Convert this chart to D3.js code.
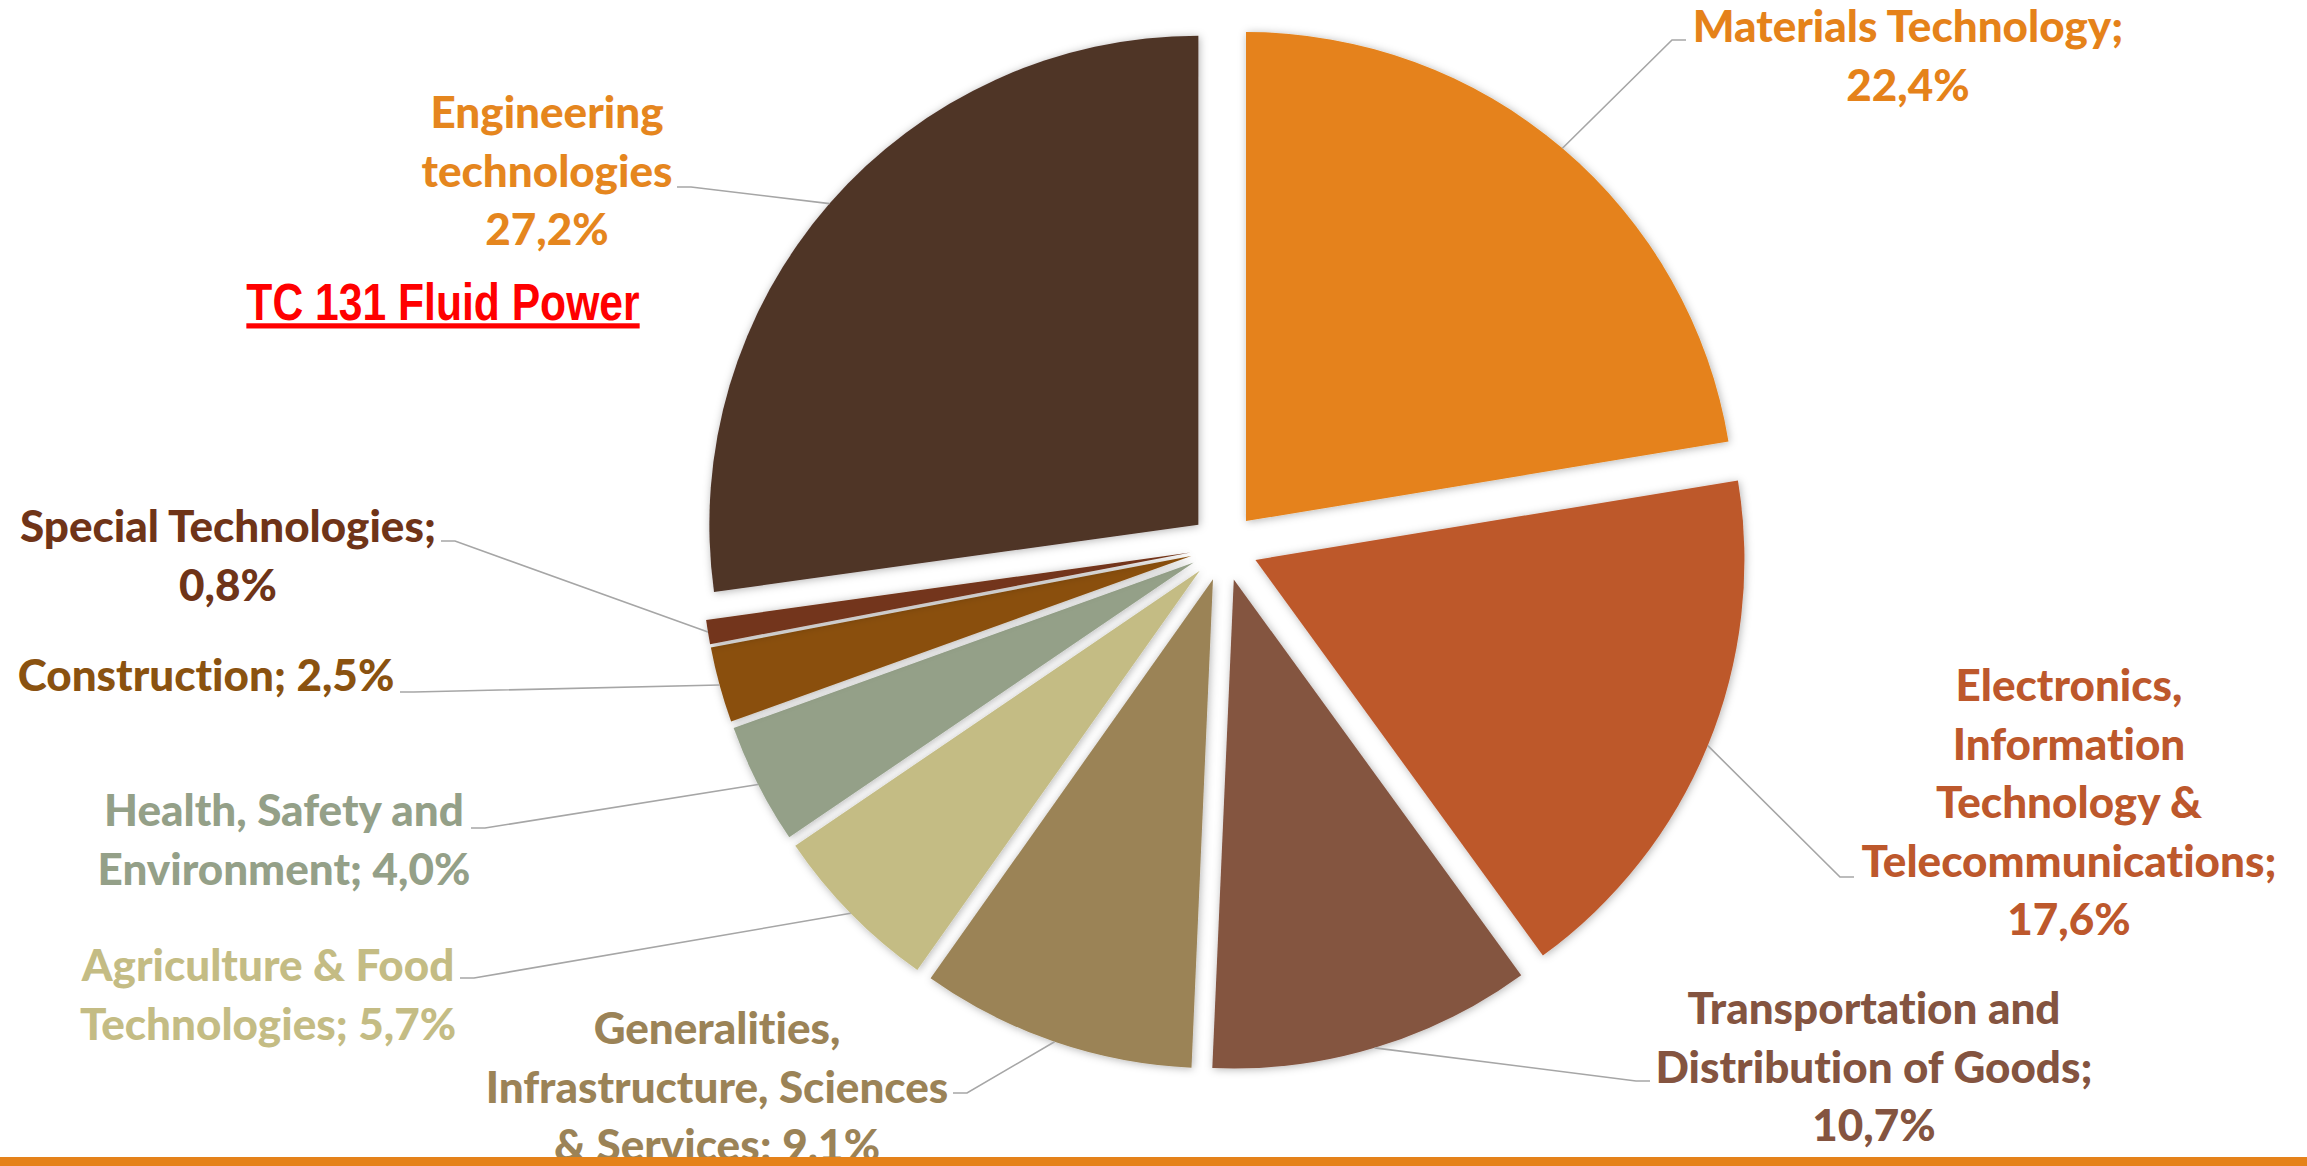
<!DOCTYPE html>
<html>
<head>
<meta charset="utf-8">
<script src="https://cdn.jsdelivr.net/npm/d3@7"></script>
<style>
	body { margin: 0; background: #fff; overflow: hidden; }
	.label { font-family: Lato, "Open Sans", sans-serif; font-weight: 900; font-size: 44px; text-anchor: middle;
		font-variant-ligatures: none; font-feature-settings: "liga" 0, "dlig" 0; }
	.note { font-family: "Liberation Sans", Arial, sans-serif; font-weight: 700; font-size: 52px; }
</style>
</head>
<body>
<div id="chart"></div>
<script>
// shares of standards per sector (%), clockwise from 12 o'clock
const categories = ["Materials Technology", "Electronics, Information Technology & Telecommunications",
	"Transportation and Distribution of Goods", "Generalities, Infrastructure, Sciences & Services",
	"Agriculture & Food Technologies", "Health, Safety and Environment", "Construction",
	"Special Technologies", "Engineering technologies"];
const shares = [22.4, 17.6, 10.7, 9.1, 5.7, 4.0, 2.5, 0.8, 27.2];
const sliceColors = ["#e5821a", "#bd582c", "#845440", "#9b8357", "#c4bc84", "#94a088", "#8a500e", "#73351a", "#4f3428"];
const labelColors = ["#e5821a", "#bd582c", "#845440", "#9b8357", "#c4bc84", "#94a088", "#8a5210", "#6f3418", "#e5861e"];
// label text, {p} gets the share
const labelLines = [
	["Materials Technology;", "{p}"],
	["Electronics,", "Information", "Technology &", "Telecommunications;", "{p}"],
	["Transportation and", "Distribution of Goods;", "{p}"],
	["Generalities,", "Infrastructure, Sciences", "& Services; {p}"],
	["Agriculture & Food", "Technologies; {p}"],
	["Health, Safety and", "Environment; {p}"],
	["Construction; {p}"],
	["Special Technologies;", "{p}"],
	["Engineering", "technologies", "{p}"]
];
const noteText = "TC 131 Fluid Power";

// label placement: centre x, first baseline, leader end point, elbow side
const labelLayout = [
	{x: 1908, y: 42,   end: [1686, 40],   side: -1},
	{x: 2069, y: 701,  end: [1854, 877],  side: -1},
	{x: 1874, y: 1024, end: [1650, 1081], side: -1},
	{x: 717,  y: 1044, end: [953, 1093],  side: 1},
	{x: 268,  y: 981,  end: [460, 978],   side: 1},
	{x: 284,  y: 826,  end: [471, 828],   side: 1},
	{x: 206,  y: 691,  end: [400, 692],   side: 1},
	{x: 228,  y: 542,  end: [441, 541],   side: 1},
	{x: 547,  y: 128,  end: [677, 187],   side: 1}
];

var width = 2307, height = 1166;
var cx = 1224, cy = 547, radius = 489, explode = 34, lineGap = 58.5;

var fmt = function(v) { return d3.format(".1f")(v).replace(".", ",") + "%"; };

var data = categories.map(function(c, i) { return {name: c, value: shares[i], i: i}; });

var svg = d3.select("#chart")
	.append("svg")
	.attr("width", width)
	.attr("height", height);

var defs = svg.append("defs");
var shadow = defs.append("filter")
	.attr("id", "shadow")
	.attr("x", "-10%").attr("y", "-10%")
	.attr("width", "120%").attr("height", "120%");
shadow.append("feDropShadow")
	.attr("dx", 1).attr("dy", 1)
	.attr("stdDeviation", 4)
	.attr("flood-color", "#000")
	.attr("flood-opacity", 0.3);

var pie = d3.pie().sort(null).value(function(d) { return d.value; });
var arc = d3.arc().innerRadius(0).outerRadius(radius);
var rim = d3.arc().innerRadius(radius).outerRadius(radius);
var arcs = pie(data);

function offset(d) {
	var mid = (d.startAngle + d.endAngle) / 2;
	return [explode * Math.sin(mid), -explode * Math.cos(mid)];
}

var g = svg.append("g")
	.attr("transform", "translate(" + cx + "," + cy + ")");

// slices
g.selectAll(".slice")
	.data(arcs)
	.enter()
	.append("path")
		.attr("class", "slice")
		.attr("transform", function(d) { return "translate(" + offset(d) + ")"; })
		.attr("d", arc)
		.style("fill", function(d) { return sliceColors[d.data.i]; })
		.attr("filter", "url(#shadow)");

// leader lines
svg.selectAll(".leader")
	.data(arcs)
	.enter()
	.append("polyline")
		.attr("class", "leader")
		.attr("points", function(d) {
			var o = offset(d), c = rim.centroid(d);
			var L = labelLayout[d.data.i];
			var start = [cx + o[0] + c[0], cy + o[1] + c[1]];
			var elbow = [L.end[0] + L.side * 14, L.end[1]];
			return [start, elbow, L.end].map(function(p) { return p.join(","); }).join(" ");
		})
		.style("fill", "none")
		.style("stroke", "#a6a6a6")
		.style("stroke-width", 1.6);

// labels
var labels = svg.selectAll(".label")
	.data(data)
	.enter()
	.append("text")
		.attr("class", "label")
		.style("fill", function(d) { return labelColors[d.i]; });

labels.selectAll("tspan")
	.data(function(d) {
		return labelLines[d.i].map(function(s, k) {
			return {text: s.replace("{p}", fmt(d.value)), k: k, L: labelLayout[d.i]};
		});
	})
	.enter()
	.append("tspan")
		.attr("x", function(t) { return t.L.x; })
		.attr("y", function(t) { return t.L.y + t.k * lineGap; })
		.text(function(t) { return t.text; });

// red underlined note (narrow bold face)
svg.append("text")
	.attr("class", "note")
	.attr("transform", "translate(443,320) scale(0.82,1)")
	.style("text-anchor", "middle")
	.style("fill", "#ff0000")
	.style("text-decoration", "underline")
	.text(noteText);

// orange band at the bottom
svg.append("rect")
	.attr("x", 0)
	.attr("y", 1157)
	.attr("width", width)
	.attr("height", 9)
	.style("fill", "#e5821a");
</script>
</body>
</html>
